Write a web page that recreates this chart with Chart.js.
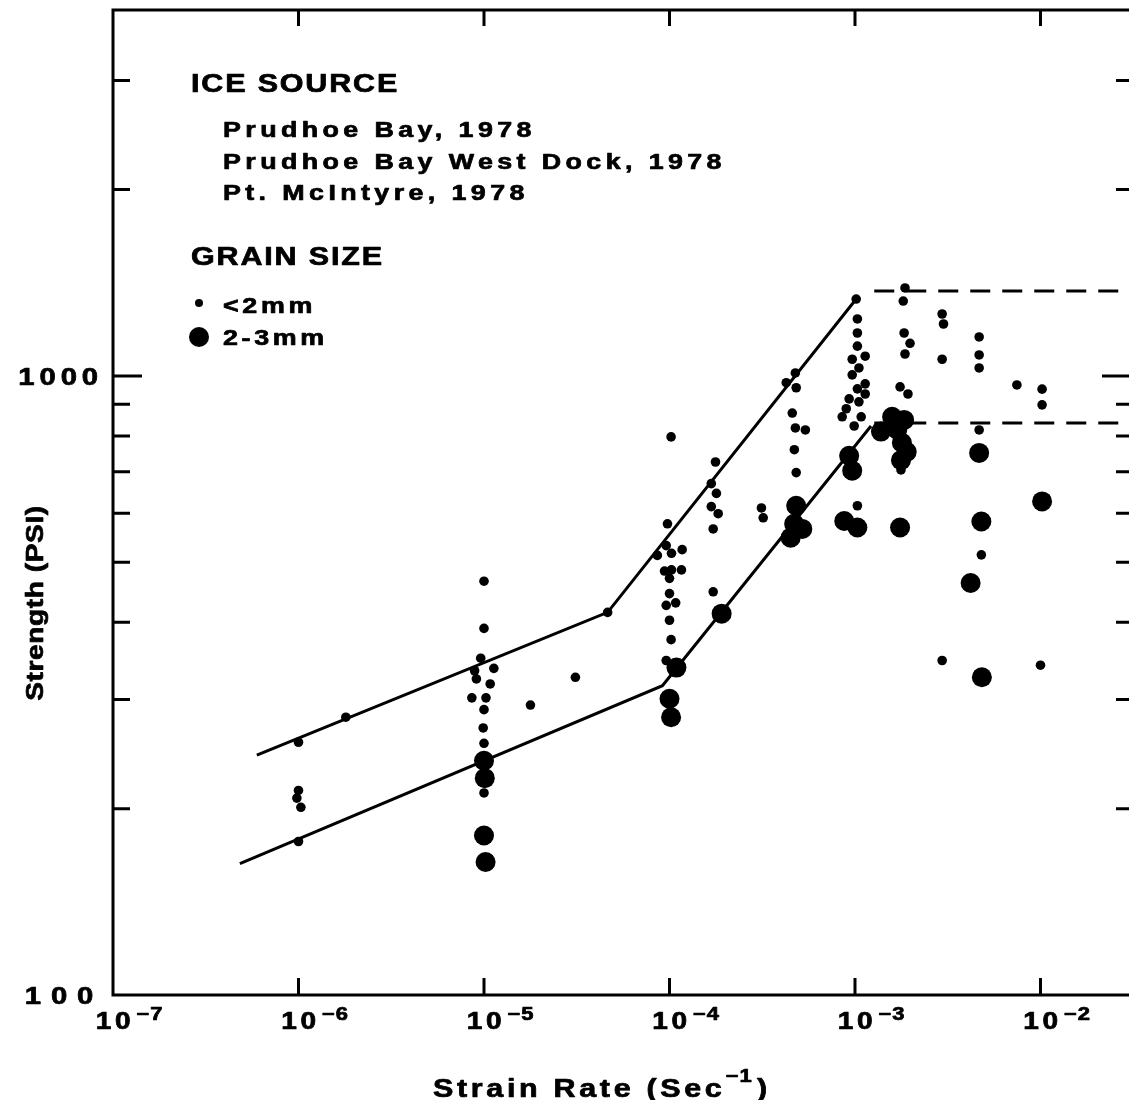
<!DOCTYPE html>
<html>
<head>
<meta charset="utf-8">
<script src="https://cdn.jsdelivr.net/npm/chart.js@4.4.1/dist/chart.umd.min.js"></script>
<style>
  html, body { margin: 0; padding: 0; background: #fff; overflow: hidden; }
  canvas { display: block; }
</style>
</head>
<body>
<canvas id="chart" width="1129" height="1100"></canvas>
<script>
// strain rate (1/sec) and strength (psi)
// grain size < 2mm
const smallRate = [
    1.0e-6, 1.0e-6, 0.98e-6, 1.03e-6, 1.0e-6, 1.8e-6,
    1.0e-5, 1.0e-5, 0.96e-5, 0.89e-5, 1.13e-5, 0.91e-5, 1.08e-5, 0.86e-5, 1.025e-5, 1.0e-5, 0.99e-5, 1.0e-5, 1.0e-5,
    1.78e-5, 3.11e-5, 4.64e-5,
    1.02e-4, 1.77e-4, 1.68e-4, 1.79e-4, 1.68e-4, 1.83e-4, 1.72e-4, 0.975e-4,
    0.96e-4, 0.86e-4, 1.025e-4, 1.17e-4, 0.94e-4, 1.025e-4, 1.16e-4, 1.0e-4,
    1.0e-4, 1.08e-4, 0.96e-4, 1.0e-4, 1.02e-4, 0.96e-4, 1.72e-4,
    3.13e-4, 3.2e-4,
    4.77e-4, 4.26e-4, 4.82e-4, 4.59e-4, 4.77e-4, 5.4e-4, 4.71e-4, 4.82e-4,
    1.015e-3, 1.03e-3, 1.03e-3, 1.03e-3, 1.135e-3, 0.966e-3, 1.05e-3, 0.966e-3, 1.135e-3,
    1.03e-3, 1.135e-3, 0.93e-3, 1.05e-3, 0.897e-3, 1.08e-3, 0.853e-3, 0.99e-3, 1.03e-3,
    1.86e-3, 1.82e-3, 1.84e-3, 1.98e-3, 1.86e-3, 1.75e-3, 1.93e-3, 1.77e-3,
    2.95e-3, 3.0e-3, 2.95e-3, 2.95e-3,
    4.67e-3, 4.67e-3, 4.67e-3, 4.67e-3, 4.8e-3,
    7.46e-3, 1.02e-2, 1.02e-2, 1.0e-2
];
const smallStrength = [
    256, 214, 208, 201, 177, 281,
    466, 391, 350, 334, 337, 324, 318, 302, 302, 289, 270, 255, 212,
    294, 326, 415,
    797, 726, 670, 646, 615, 599, 566, 577,
    532, 513, 517, 524, 484, 486, 486, 471,
    445, 430, 426, 403, 375, 347, 448,
    612, 590,
    1011, 975, 957, 871, 824, 818, 760, 698,
    1331, 1236, 1173, 1117, 1076, 1064, 1030, 1004, 971,
    953, 935, 918, 908, 885, 859, 859, 830, 617,
    1387, 1321, 1173, 1129, 1085, 960, 935, 705,
    1259, 1213, 1064, 347,
    1156, 1081, 1030, 818, 514,
    967, 952, 898, 341
];
// grain size 2-3mm
const largeRate = [
    1.0e-5, 1.01e-5, 1.0e-5, 1.02e-5,
    1.09e-4, 1.0e-4, 1.02e-4, 1.91e-4,
    4.82e-4, 4.7e-4, 5.2e-4, 4.5e-4,
    0.93e-3, 0.966e-3, 0.875e-3, 1.03e-3,
    1.585e-3, 1.84e-3, 1.38e-3, 1.69e-3, 1.79e-3, 1.9e-3, 1.77e-3, 1.75e-3,
    4.67e-3, 4.8e-3, 4.2e-3, 4.83e-3,
    1.02e-2
];
const largeStrength = [
    239, 224, 181, 164,
    338, 301, 281, 413,
    617, 577, 566, 548,
    743, 703, 583, 569,
    859, 849, 813, 819, 780, 754, 731, 569,
    751, 582, 463, 326,
    627
];
// fitted envelopes
const upperFitRate = [5.96e-7, 4.64e-5, 1.015e-3];
const upperFitStrength = [244, 415, 1331];
const lowerFitRate = [4.83e-7, 9.16e-5, 1.22e-3];
const lowerFitStrength = [163, 316, 830];
const upperCapRate = [1.27e-3, 3e-2];
const upperCapStrength = [1371, 1371];
const lowerCapRate = [1.27e-3, 3e-2];
const lowerCapStrength = [839, 839];

const rateTicks = [1e-7, 1e-6, 1e-5, 1e-4, 1e-3, 1e-2];
const rateExponents = ['−7', '−6', '−5', '−4', '−3', '−2'];
const strengthTicks = [100, 200, 300, 400, 500, 600, 700, 800, 900, 1000, 2000, 3000];
const strengthLabels = ['100', '1000'];
const sourceHeading = 'ICE SOURCE';
const sourceLabels = ['Prudhoe Bay, 1978', 'Prudhoe Bay West Dock, 1978', 'Pt. McIntyre, 1978'];
const grainHeading = 'GRAIN SIZE';
const grainLabels = ['<2mm', '2-3mm'];

const FONT = '"Liberation Sans", Arial, sans-serif';
const STRETCH = 1.22;

const toPoints = (xs, ys) => xs.map((x, i) => ({ x: x, y: ys[i] }));

// draw text slightly widened and thickened, like the extended face in the original
function putText(ctx, str, x, y, size, align, spacing) {
    ctx.font = `bold ${size}px ${FONT}`;
    ctx.letterSpacing = (spacing === undefined ? 2 : spacing) + 'px';
    const w = ctx.measureText(str).width * STRETCH;
    let x0 = x;
    if (align === 'center') x0 = x - w / 2;
    if (align === 'right') x0 = x - w;
    ctx.save();
    ctx.translate(x0, y);
    ctx.scale(STRETCH, 1);
    ctx.textAlign = 'left';
    ctx.textBaseline = 'alphabetic';
    ctx.lineWidth = 0.7;
    ctx.lineJoin = 'round';
    ctx.fillText(str, 0, 0);
    ctx.strokeText(str, 0, 0);
    ctx.restore();
    return w;
}

const framePlugin = {
    id: 'frame',
    afterDraw(chart) {
        const ctx = chart.ctx;
        const { left, right, top, bottom } = chart.chartArea;
        const xs = chart.scales.x;
        const ys = chart.scales.y;
        ctx.save();
        ctx.strokeStyle = '#000';
        ctx.fillStyle = '#000';
        ctx.lineWidth = 3;

        // frame: left, bottom, top
        ctx.beginPath();
        ctx.moveTo(right, top);
        ctx.lineTo(left, top);
        ctx.lineTo(left, bottom);
        ctx.lineTo(right, bottom);
        ctx.stroke();

        // inward ticks
        ctx.beginPath();
        rateTicks.forEach(v => {
            if (v === rateTicks[0]) return;
            const px = xs.getPixelForValue(v);
            ctx.moveTo(px, bottom); ctx.lineTo(px, bottom - 17);
            ctx.moveTo(px, top); ctx.lineTo(px, top + 16);
        });
        strengthTicks.forEach(v => {
            if (v === 100) return;
            const py = ys.getPixelForValue(v);
            const big = v === 1000;
            ctx.moveTo(left, py); ctx.lineTo(left + (big ? 29 : 17), py);
            ctx.moveTo(right, py); ctx.lineTo(right - (big ? 27 : 13), py);
        });
        ctx.stroke();

        // x tick labels 10^n
        rateTicks.forEach((v, i) => {
            const px = xs.getPixelForValue(v) + 2;
            const w = putText(ctx, '10', px, bottom + 34, 23, 'center', 3);
            putText(ctx, rateExponents[i], px + w / 2 + 2, bottom + 25, 18, 'left', 1);
        });

        // y tick labels
        strengthLabels.forEach(s => {
            const py = ys.getPixelForValue(Number(s));
            putText(ctx, s, left - 10, py + 9, 24, 'right', s.length < 4 ? 8 : 4);
        });

        // axis titles
        let tx = 433;
        tx += putText(ctx, 'Strain Rate (Sec', tx, 1097, 25, 'left', 3);
        tx += putText(ctx, '−1', tx, 1082, 18, 'left', 1);
        putText(ctx, ')', tx + 4, 1097, 25, 'left', 3);

        ctx.save();
        ctx.translate(43, 603);
        ctx.rotate(-Math.PI / 2);
        putText(ctx, 'Strength (PSI)', 0, 0, 23, 'center', 0.5);
        ctx.restore();

        // legend block
        putText(ctx, sourceHeading, 191, 92, 25, 'left', 1.5);
        sourceLabels.forEach((s, i) => putText(ctx, s, 223, 137 + i * 31.5, 22, 'left', 3.6));
        putText(ctx, grainHeading, 191, 265, 25, 'left', 1.5);
        ctx.beginPath(); ctx.arc(199, 303, 4, 0, Math.PI * 2); ctx.fill();
        ctx.beginPath(); ctx.arc(199, 337, 10, 0, Math.PI * 2); ctx.fill();
        putText(ctx, grainLabels[0], 223, 313, 22, 'left', 3);
        putText(ctx, grainLabels[1], 223, 345, 22, 'left', 3);

        ctx.restore();
    }
};

const lineStyle = {
    showLine: true,
    borderColor: '#000',
    borderWidth: 3,
    pointRadius: 0,
    tension: 0,
    fill: false
};

new Chart(document.getElementById('chart'), {
    type: 'scatter',
    data: {
        datasets: [
            {
                label: '<2mm',
                data: toPoints(smallRate, smallStrength),
                pointRadius: 4.8,
                pointBackgroundColor: '#000',
                pointBorderWidth: 0
            },
            {
                label: '2-3mm',
                data: toPoints(largeRate, largeStrength),
                pointRadius: 10,
                pointBackgroundColor: '#000',
                pointBorderWidth: 0
            },
            Object.assign({ label: 'upper', data: toPoints(upperFitRate, upperFitStrength) }, lineStyle),
            Object.assign({ label: 'lower', data: toPoints(lowerFitRate, lowerFitStrength) }, lineStyle),
            Object.assign({ label: 'upper cap', data: toPoints(upperCapRate, upperCapStrength), borderDash: [20, 12] }, lineStyle),
            Object.assign({ label: 'lower cap', data: toPoints(lowerCapRate, lowerCapStrength), borderDash: [20, 12] }, lineStyle)
        ]
    },
    options: {
        responsive: false,
        animation: false,
        devicePixelRatio: 1,
        layout: { autoPadding: false, padding: { top: 10, right: 0, left: 0, bottom: 0 } },
        plugins: {
            legend: { display: false },
            tooltip: { enabled: false }
        },
        scales: {
            x: {
                type: 'logarithmic',
                min: 1e-7,
                max: 3e-2,
                ticks: { display: false },
                grid: { display: false },
                border: { display: false },
                afterFit(scale) {
                    scale.height = 105;
                    scale.paddingLeft = 0;
                    scale.paddingRight = 0;
                }
            },
            y: {
                type: 'logarithmic',
                min: 100,
                max: 3900,
                ticks: { display: false },
                grid: { display: false },
                border: { display: false },
                afterFit(scale) {
                    scale.width = 113;
                    scale.paddingTop = 0;
                    scale.paddingBottom = 0;
                }
            }
        }
    },
    plugins: [framePlugin]
});
</script>
</body>
</html>
